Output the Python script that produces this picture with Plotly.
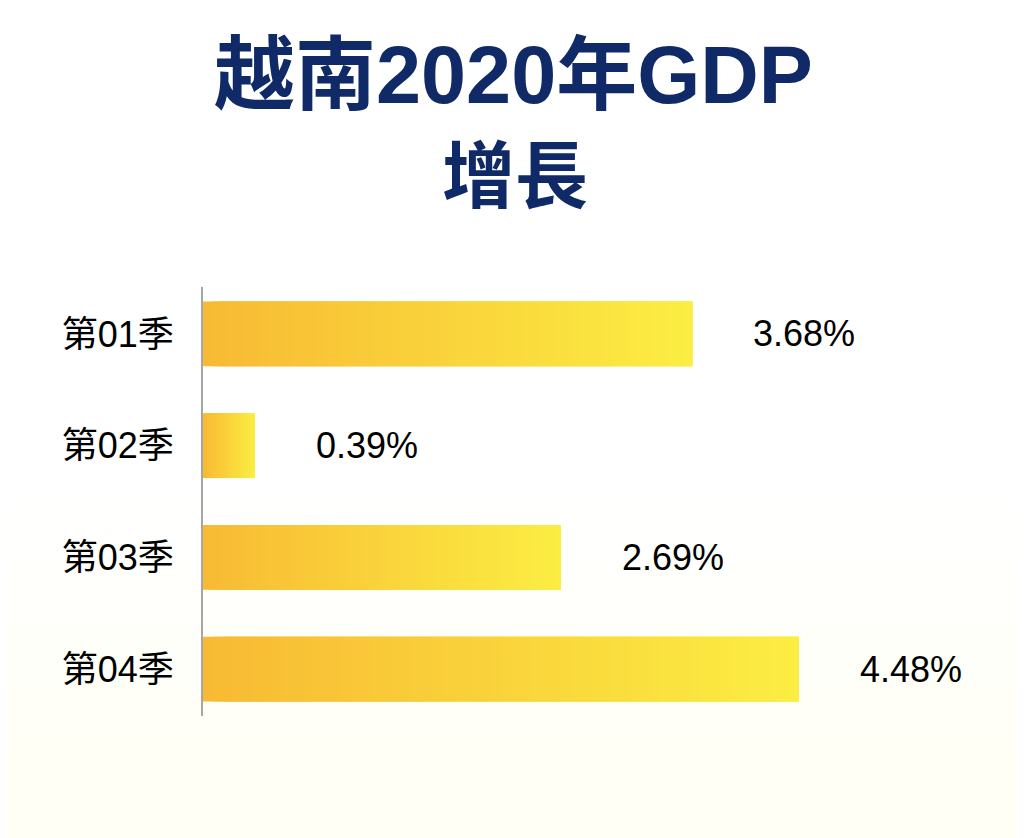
import plotly.graph_objects as go

# 越南2020年各季GDP增長
quarters = ["第01季", "第02季", "第03季", "第04季"]
growth = [3.68, 0.39, 2.69, 4.48]
labels = ["3.68%", "0.39%", "2.69%", "4.48%"]

# bar gradient: orange-yellow on the left to yellow on the right
c_left = (248, 186, 52)
c_right = (251, 237, 66)
steps = 60


def mix(t):
    r, g, b = [round(a + (b - a) * t) for a, b in zip(c_left, c_right)]
    return f"rgb({r},{g},{b})"


# each slice overlaps the next two, later slices drawn on top, so no seams show
ys, xs, bases, colors = [], [], [], []
for q, v in zip(quarters, growth):
    seg = v / steps
    for k in range(steps):
        ys.append(q)
        bases.append(k * seg)
        xs.append(min(v - k * seg, 3 * seg))
        colors.append(mix(k / (steps - 1)))

fig = go.Figure()
fig.add_trace(go.Bar(
    y=ys, x=xs, base=bases, orientation="h",
    width=0.58,
    marker=dict(color=colors, line=dict(width=0)),
    hoverinfo="skip", showlegend=False,
))

for q, v, t in zip(quarters, growth, labels):
    fig.add_annotation(
        x=v, y=q, text=t, showarrow=False,
        xanchor="left", yanchor="middle", xshift=59,
        font=dict(size=36, color="#000000", family="Liberation Sans, Arial, sans-serif"),
    )

navy = "#0f2a66"
fig.add_annotation(
    text="<b>越南2020年GDP</b>", xref="paper", yref="paper",
    x=0.389, y=1.494, xanchor="center", yanchor="middle", showarrow=False,
    font=dict(size=81, color=navy, family="Liberation Sans, Noto Sans CJK TC"),
)
fig.add_annotation(
    text="<b>增長</b>", xref="paper", yref="paper",
    x=0.392, y=1.272, xanchor="center", yanchor="middle", showarrow=False,
    font=dict(size=73, color=navy, family="Noto Sans CJK TC, Liberation Sans"),
)

# very faint cream wash towards the bottom of the page
for i in range(10):
    fig.add_shape(
        type="rect", xref="paper", yref="paper", layer="below",
        x0=-1, x1=2, y0=-1, y1=0.5 - i * 0.07,
        fillcolor="#f0f0dc", opacity=0.018, line=dict(width=0),
    )

# page body adds 8px, so the figure is 8px smaller and the margins shifted
fig.update_layout(
    width=1016, height=830,
    margin=dict(l=195, r=24, t=279, b=122),
    paper_bgcolor="#ffffff", plot_bgcolor="rgba(0,0,0,0)",
    barmode="overlay",
    xaxis=dict(range=[0, 797 / 133.0], visible=False, fixedrange=True),
    yaxis=dict(
        range=[3.42, -0.42], categoryorder="array", categoryarray=quarters,
        showline=True, linecolor="#a6a6a6", linewidth=2,
        showgrid=False, zeroline=False, ticks="",
        ticklabelstandoff=20,
        tickfont=dict(size=36, color="#000000", family="Liberation Sans, Noto Sans CJK TC"),
        fixedrange=True,
    ),
)

fig.write_html("out.html")
